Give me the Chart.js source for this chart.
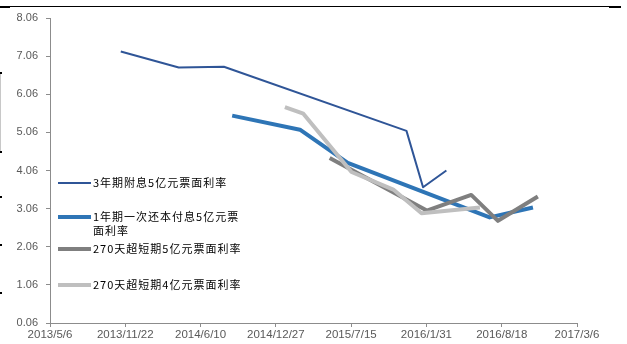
<!DOCTYPE html>
<html>
<head>
<meta charset="utf-8">
<script src="https://cdn.jsdelivr.net/npm/chart.js@4/dist/chart.umd.min.js"></script>
<style>
  html, body { margin: 0; padding: 0; background: #ffffff; }
  #wrap { position: relative; width: 627px; height: 344px; }
</style>
</head>
<body>
<div id="wrap"><canvas id="c" width="627" height="344"></canvas></div>
<script>
// Coupon rates (%) of four note issues, by issue date
const seriesNames = [
  '3年期附息5亿元票面利率',
  '1年期一次还本付息5亿元票面利率',
  '270天超短期5亿元票面利率',
  '270天超短期4亿元票面利率'
];

const dates3y = ['2013/11/10', '2014/4/13', '2014/8/11', '2015/12/9', '2016/1/22', '2016/3/24'];
const rates3y = [7.18, 6.76, 6.78, 5.10, 3.62, 4.06];

const dates1y = ['2014/9/2', '2015/3/1', '2015/7/6', '2016/7/17', '2016/11/9'];
const rates1y = [5.50, 5.13, 4.26, 2.83, 3.09];

const dates270a = ['2015/5/19', '2016/2/1', '2016/5/29', '2016/8/8', '2016/11/22'];
const rates270a = [4.39, 3.01, 3.42, 2.74, 3.38];

const dates270b = ['2015/1/20', '2015/3/10', '2015/7/16', '2015/11/4', '2016/1/18', '2016/6/21'];
const rates270b = [5.72, 5.55, 4.02, 3.56, 2.94, 3.09];

// Axis tick labels
const xTickLabels = ['2013/5/6', '2013/11/22', '2014/6/10', '2014/12/27', '2015/7/15', '2016/1/31', '2016/8/18', '2017/3/6'];
const yTickLabels = ['0.06', '1.06', '2.06', '3.06', '4.06', '5.06', '6.06', '7.06', '8.06'];

const seriesColors = ['#2F5597', '#2E75B6', '#7F7F7F', '#BFBFBF'];
const seriesWidths = [2, 4, 4, 4];

// Dates are placed on a day-count axis starting at the first tick date
function parseDate(s) {
  const p = s.split('/').map(Number);
  return Date.UTC(p[0], p[1] - 1, p[2]);
}
const origin = parseDate(xTickLabels[0]);
function dayIndex(s) { return Math.round((parseDate(s) - origin) / 86400000); }
function formatDay(v) {
  const d = new Date(origin + v * 86400000);
  return d.getUTCFullYear() + '/' + (d.getUTCMonth() + 1) + '/' + d.getUTCDate();
}

const xTickValues = xTickLabels.map(dayIndex);
const yTickValues = yTickLabels.map(Number);

function points(dates, rates) {
  return dates.map((d, i) => ({ x: dayIndex(d), y: rates[i] }));
}
const seriesData = [
  points(dates3y, rates3y),
  points(dates1y, rates1y),
  points(dates270a, rates270a),
  points(dates270b, rates270b)
];

const CJK = '"Noto Sans CJK SC", "Noto Sans", sans-serif';

// Legend drawn inside the plot area, with wrapped labels
const insideLegend = {
  id: 'insideLegend',
  afterDraw(chart) {
    const ctx = chart.ctx;
    const rows = [183, 217, 249, 285];
    const lineX0 = 58, lineX1 = 91, textX = 93, maxW = 150, lineH = 14;
    ctx.save();
    ctx.font = '11px ' + CJK;
    if ('letterSpacing' in ctx) ctx.letterSpacing = '1px';
    ctx.textBaseline = 'middle';
    ctx.textAlign = 'left';
    chart.data.datasets.forEach((ds, i) => {
      const y = rows[i];
      ctx.strokeStyle = ds.borderColor;
      ctx.lineWidth = ds.borderWidth;
      ctx.lineCap = 'butt';
      ctx.beginPath();
      ctx.moveTo(lineX0, y);
      ctx.lineTo(lineX1, y);
      ctx.stroke();
      // wrap label by characters
      const lines = [];
      let cur = '';
      for (const ch of ds.label) {
        if (ctx.measureText(cur + ch).width > maxW && cur) { lines.push(cur); cur = ch; }
        else cur += ch;
      }
      if (cur) lines.push(cur);
      ctx.fillStyle = '#000000';
      lines.forEach((t, k) => ctx.fillText(t, textX, y + k * lineH));
    });
    ctx.restore();
  }
};

// Thin page rule along the top edge
const pageRule = {
  id: 'pageRule',
  beforeDraw(chart) {
    const ctx = chart.ctx;
    ctx.save();
    ctx.fillStyle = '#000000';
    ctx.fillRect(0, 6, 621, 1);
    ctx.fillRect(0, 6, 10, 2);
    ctx.fillRect(609, 6, 12, 2);
    ctx.fillStyle = '#c8c8c8';
    ctx.fillRect(0, 73, 1, 79);
    ctx.fillStyle = '#000000';
    ctx.fillRect(0, 72, 2, 2);
    ctx.fillRect(0, 151, 2, 2);
    ctx.fillRect(0, 196, 2, 2);
    ctx.fillRect(0, 244, 2, 2);
    ctx.fillRect(0, 292, 2, 2);
    ctx.restore();
  }
};

const axisColor = '#8c8c8c';
const tickFont = { family: '"Liberation Sans", Arial, sans-serif', size: 11 };
const xTickFont = { family: '"Liberation Sans", Arial, sans-serif', size: 11.5 };

new Chart(document.getElementById('c'), {
  type: 'line',
  data: {
    datasets: seriesNames.map((name, i) => ({
      label: name,
      data: seriesData[i],
      borderColor: seriesColors[i],
      backgroundColor: seriesColors[i],
      borderWidth: seriesWidths[i],
      pointRadius: 0,
      pointHoverRadius: 0,
      tension: 0,
      fill: false,
      borderJoinStyle: 'round',
      borderCapStyle: 'butt',
      order: seriesNames.length - i
    }))
  },
  options: {
    responsive: false,
    animation: false,
    devicePixelRatio: 1,
    layout: { padding: { left: 0, right: 50, top: 18, bottom: 0 } },
    plugins: {
      legend: { display: false },
      tooltip: { enabled: false }
    },
    scales: {
      x: {
        type: 'linear',
        min: xTickValues[0],
        max: xTickValues[xTickValues.length - 1],
        afterBuildTicks(scale) { scale.ticks = xTickValues.map(v => ({ value: v })); },
        afterFit(scale) { scale.height = 21; },
        ticks: {
          callback: v => formatDay(v),
          color: '#595959',
          font: xTickFont,
          maxRotation: 0,
          autoSkip: false,
          padding: 1
        },
        grid: { display: true, drawOnChartArea: false, drawTicks: true, tickLength: 4, color: axisColor },
        border: { display: true, color: axisColor, width: 1 }
      },
      y: {
        type: 'linear',
        min: yTickValues[0],
        max: yTickValues[yTickValues.length - 1],
        afterBuildTicks(scale) { scale.ticks = yTickValues.map(v => ({ value: v })); },
        afterFit(scale) { scale.width = 50; },
        ticks: {
          callback: v => Number(v).toFixed(2),
          color: '#595959',
          font: tickFont,
          padding: 8
        },
        grid: { display: true, drawOnChartArea: false, drawTicks: true, tickLength: 4, color: axisColor },
        border: { display: true, color: axisColor, width: 1 }
      }
    }
  },
  plugins: [pageRule, insideLegend]
});
</script>
</body>
</html>
